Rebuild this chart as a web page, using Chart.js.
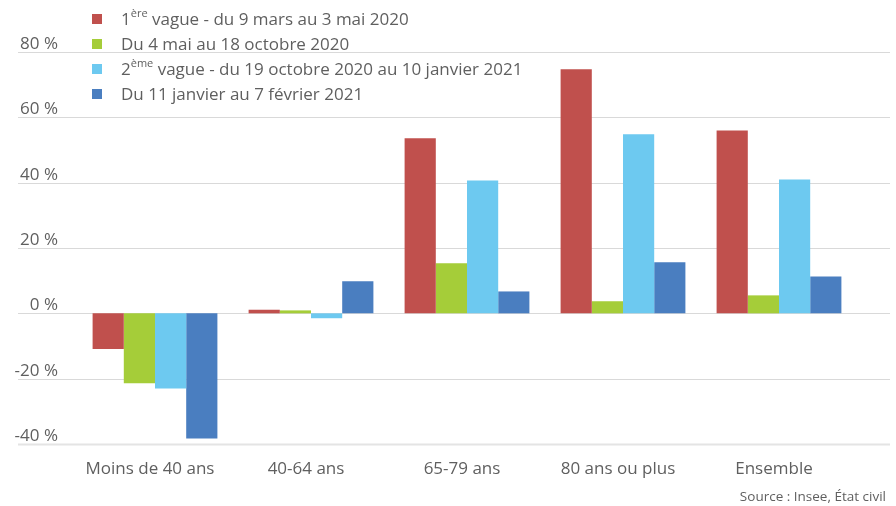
<!DOCTYPE html>
<html><head><meta charset="utf-8">
<script src="https://cdn.jsdelivr.net/npm/chart.js@4/dist/chart.umd.min.js"></script>
<style>html,body{margin:0;padding:0;background:#fff;}#wrap{width:896px;height:506px;position:relative;}</style>
</head><body><div id="wrap"><canvas id="c" width="896" height="506"></canvas></div>
<script>
const categories = ['Moins de 40 ans', '40-64 ans', '65-79 ans', '80 ans ou plus', 'Ensemble'];
const vague1 = [-10.9, 1.1, 53.6, 74.7, 56.0];
const ete2020 = [-21.4, 0.9, 15.3, 3.7, 5.5];
const vague2 = [-23.0, -1.5, 40.7, 54.8, 41.0];
const janvFev = [-38.3, 9.8, 6.7, 15.6, 11.3];
const seriesLabels = [
  '1ère vague - du 9 mars au 3 mai 2020',
  'Du 4 mai au 18 octobre 2020',
  '2ème vague - du 19 octobre 2020 au 10 janvier 2021',
  'Du 11 janvier au 7 février 2021'
];
// legend texts split into [text, isSuperscript] parts
const legendParts = [
  [['1', 0], ['ère', 1], [' vague - du 9 mars au 3 mai 2020', 0]],
  [['Du 4 mai au 18 octobre 2020', 0]],
  [['2', 0], ['ème', 1], [' vague - du 19 octobre 2020 au 10 janvier 2021', 0]],
  [['Du 11 janvier au 7 février 2021', 0]]
];
const yTicks = [-40, -20, 0, 20, 40, 60, 80];
const sourceText = 'Source : Insee, État civil';
const colors = ['#C0504D', '#A5CD39', '#6DC9F0', '#4A7EC0'];

const FONT = '"Open Sans", "Noto Sans", sans-serif';
const TXT = '#5f5f5f';

const customDraw = {
  id: 'customDraw',
  beforeDatasetsDraw(chart) {
    const ctx = chart.ctx, y = chart.scales.y;
    ctx.save();
    yTicks.forEach(v => {
      const py = Math.round(y.getPixelForValue(v));
      if (v === yTicks[0]) {
        ctx.strokeStyle = '#e4e4e4'; ctx.lineWidth = 2;
        ctx.beginPath(); ctx.moveTo(18, py + 0.5); ctx.lineTo(890, py + 0.5); ctx.stroke();
      } else {
        ctx.strokeStyle = '#d9d9d9'; ctx.lineWidth = 1;
        ctx.beginPath(); ctx.moveTo(18, py + 0.5); ctx.lineTo(890, py + 0.5); ctx.stroke();
      }
    });
    ctx.restore();
  },
  afterDraw(chart) {
    const ctx = chart.ctx;
    ctx.save();
    // legend
    const rows = [19, 44, 69, 94];
    legendParts.forEach((parts, i) => {
      const cy = rows[i];
      ctx.fillStyle = colors[i];
      ctx.fillRect(92, cy - 5, 10, 10);
      let x = 121;
      parts.forEach(([t, sup]) => {
        ctx.font = (sup ? '11px ' : '17px ') + FONT;
        ctx.fillStyle = TXT;
        ctx.textBaseline = 'alphabetic';
        ctx.textAlign = 'left';
        ctx.fillText(t, x, sup ? cy - 2 : cy + 6);
        x += ctx.measureText(t).width;
      });
    });
    // source
    ctx.font = '13.5px ' + FONT;
    ctx.fillStyle = TXT;
    ctx.textAlign = 'right';
    ctx.textBaseline = 'middle';
    ctx.fillText(sourceText, 886, 497);
    ctx.restore();
  }
};

const datasets = [vague1, ete2020, vague2, janvFev].map((d, i) => ({
  label: seriesLabels[i],
  data: d,
  backgroundColor: colors[i],
  borderWidth: 0,
  barPercentage: 1,
  categoryPercentage: 0.8
}));

new Chart(document.getElementById('c'), {
  type: 'bar',
  data: { labels: categories, datasets },
  options: {
    responsive: false,
    animation: false,
    layout: { padding: { left: 0, right: 39, top: 52, bottom: 0 } },
    plugins: { legend: { display: false }, tooltip: { enabled: false }, title: { display: false } },
    scales: {
      x: {
        grid: { display: false, drawTicks: false },
        border: { display: false },
        ticks: { color: TXT, font: { family: FONT, size: 17 }, padding: 15, labelOffset: -5, maxRotation: 0 },
        afterFit(s) { s.height = 62; }
      },
      y: {
        min: -40, max: 80,
        afterBuildTicks(s) { s.ticks = yTicks.map(v => ({ value: v })); },
        grid: { display: false, drawTicks: false },
        border: { display: false },
        ticks: {
          color: TXT, font: { family: FONT, size: 17 }, padding: 19, labelOffset: -8,
          callback: v => v + '\u00a0%'
        },
        afterFit(s) { s.width = 77; }
      }
    }
  },
  plugins: [customDraw]
});
</script></body></html>
